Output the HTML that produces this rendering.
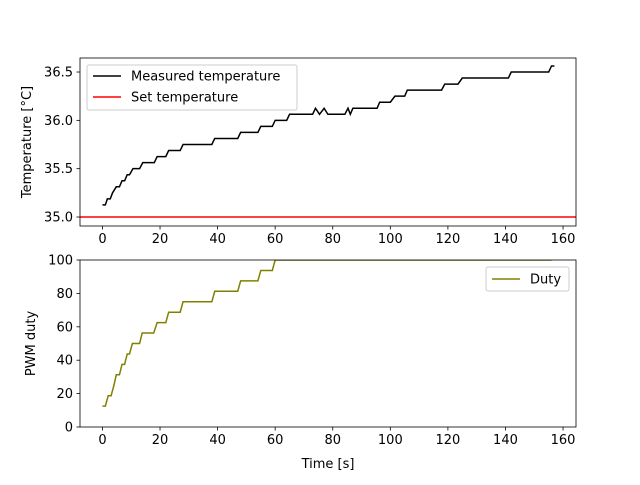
<!DOCTYPE html>
<html><head><meta charset="utf-8"><style>
body{margin:0;background:#fff;}
text{font-family:"DejaVu Sans","Liberation Sans",sans-serif;font-size:13px;fill:#000;}
</style></head><body>
<svg id="fig" width="640" height="480" xmlns="http://www.w3.org/2000/svg"></svg>
<script>
const tempTimes=[0,1,1.7,2.7,3.5,4.8,5.9,6.8,7.7,8.6,9.4,10.6,12.9,14,18,19,22,23,27,28,38,39,47,48,54,55,59,60,64,65,73,74,75.4,77,78.3,84.2,85.3,86.1,87,95.4,96.3,100,101.6,105,105.9,117.8,118.9,123.5,125,141,142,155,156,157];
const tempVals=[35.125,35.125,35.1875,35.1875,35.25,35.3125,35.3125,35.375,35.375,35.4375,35.4375,35.5,35.5,35.5625,35.5625,35.625,35.625,35.6875,35.6875,35.75,35.75,35.8125,35.8125,35.875,35.875,35.9375,35.9375,36.0,36.0,36.0625,36.0625,36.125,36.0625,36.125,36.0625,36.0625,36.125,36.0625,36.125,36.125,36.1875,36.1875,36.25,36.25,36.3125,36.3125,36.375,36.375,36.4375,36.4375,36.5,36.5,36.5625,36.5625];
const setTemp=35.0;
const dutyTimes=[0,1,2,3,4,4.8,5.9,6.8,7.7,8.6,9.4,10.4,12.9,13.8,17.8,19,22,23,27,28,38,39,47,48,54,55,59,60,156];
const dutyVals=[12.5,12.5,18.75,18.75,25,31.25,31.25,37.5,37.5,43.75,43.75,50,50,56.25,56.25,62.5,62.5,68.75,68.75,75,75,81.25,81.25,87.5,87.5,93.75,93.75,100,100];
const xTicks=[0,20,40,60,80,100,120,140,160];
const topYTicks=[35.0,35.5,36.0,36.5];
const botYTicks=[0,20,40,60,80,100];

const NS="http://www.w3.org/2000/svg",svg=document.getElementById('fig');
function el(t,a,p){const e=document.createElementNS(NS,t);for(const k in a)e.setAttribute(k,a[k]);(p||svg).appendChild(e);return e;}
const L=80,R=576,xmin=-7.8,xmax=164.5;
const sx=v=>L+(v-xmin)/(xmax-xmin)*(R-L);
const T={top:58,bot:226,min:34.907,max:36.645};
const B={top:260,bot:427,min:0,max:100};
const sy=(ax,v)=>ax.bot-(v-ax.min)/(ax.max-ax.min)*(ax.bot-ax.top);

function axes(name){
  const g=el('g',{});
  
  
  return g;
}
function frame(ax,g,yt,fmt){
  xTicks.forEach(v=>{const x=sx(v);el('line',{x1:x,x2:x,y1:ax.bot,y2:ax.bot+3.5,stroke:'#000','stroke-width':0.8},g);
    const t=el('text',{x:x,y:ax.bot+17,'text-anchor':'middle'},g);t.textContent=v;
    
    });
  yt.forEach(v=>{const y=sy(ax,v);el('line',{x1:L-3.5,x2:L,y1:y,y2:y,stroke:'#000','stroke-width':0.8},g);
    const t=el('text',{x:L-7,y:y+4.5,'text-anchor':'end'},g);t.textContent=fmt(v);
    
    });
  el('rect',{x:L,y:ax.top,width:R-L,height:ax.bot-ax.top,fill:'none',stroke:'#000','stroke-width':0.8},g);
}
function line(ax,xs,ys,color,g,name){
  const d=xs.map((x,i)=>(i?'L':'M')+sx(x).toFixed(2)+','+sy(ax,ys[i]).toFixed(2)).join('');
  const p=el('path',{d:d,fill:'none',stroke:color,'stroke-width':1.5,'clip-path':'url(#c'+(ax===T?'t':'b')+')'},g);
  
  
}
const defs=el('defs',{});
const ct=el('clipPath',{id:'ct'},defs);el('rect',{x:L,y:T.top,width:R-L,height:T.bot-T.top},ct);
const cb=el('clipPath',{id:'cb'},defs);el('rect',{x:L,y:B.top,width:R-L,height:B.bot-B.top},cb);

const gt=axes('temperature-axes');
line(T,[xmin,xmax],[setTemp,setTemp],'#ff0000',gt,'set-temperature-line');
line(T,tempTimes,tempVals,'#000000',gt,'measured-temperature-line');
frame(T,gt,topYTicks,v=>v.toFixed(1));
let cy=(T.top+T.bot)/2;
let yl=el('text',{x:31,y:cy,'text-anchor':'middle',transform:'rotate(-90 31 '+cy+')'},gt);yl.textContent='Temperature [°C]';



const gb=axes('duty-axes');
line(B,dutyTimes,dutyVals,'#808000',gb,'duty-line');
frame(B,gb,botYTicks,v=>v);
cy=(B.top+B.bot)/2;
yl=el('text',{x:35,y:cy,'text-anchor':'middle',transform:'rotate(-90 35 '+cy+')'},gb);yl.textContent='PWM duty';


const xl=el('text',{x:(L+R)/2,y:468,'text-anchor':'middle'},gb);xl.textContent='Time [s]';



const lg1=el('g',{});


el('rect',{x:87,y:65,width:210,height:45,rx:2,fill:'#fff','fill-opacity':0.8,stroke:'#ccc'},lg1);
el('line',{x1:93,x2:121,y1:76,y2:76,stroke:'#000','stroke-width':1.5},lg1);
let t=el('text',{x:131,y:80.5},lg1);t.textContent='Measured temperature';
el('line',{x1:93,x2:121,y1:97,y2:97,stroke:'#f00','stroke-width':1.5},lg1);
t=el('text',{x:131,y:101.5},lg1);t.textContent='Set temperature';
const lg2=el('g',{});


el('rect',{x:486,y:267,width:83,height:24,rx:2,fill:'#fff','fill-opacity':0.8,stroke:'#ccc'},lg2);
el('line',{x1:492,x2:520,y1:279,y2:279,stroke:'#808000','stroke-width':1.5},lg2);
t=el('text',{x:530,y:283.5},lg2);t.textContent='Duty';
</script>
</body></html>
